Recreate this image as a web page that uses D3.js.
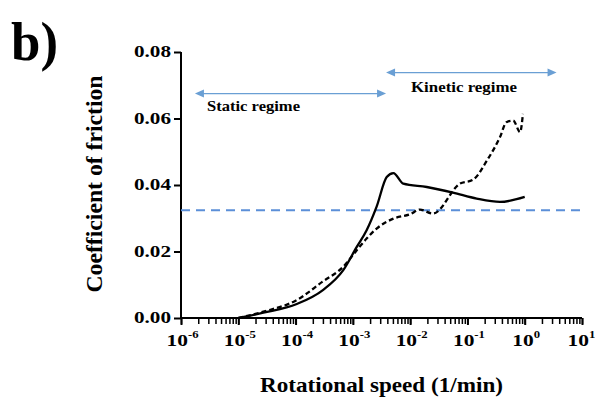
<!DOCTYPE html>
<html>
<head>
<meta charset="utf-8">
<script src="https://cdn.jsdelivr.net/npm/d3@7"></script>
<style>
  body { margin: 0; background: #fff; }
  svg text { font-family: "Liberation Serif", "Times New Roman", serif; font-weight: bold; }
</style>
</head>
<body>
<div id="chart"></div>
<script>
// rotational speed (1/min) and coefficient of friction
var solidSpeed = [1e-5, 2.75e-5, 1.05e-4, 3.0e-4, 6.8e-4, 1.17e-3, 1.74e-3, 2.6e-3, 3.9e-3, 5.1e-3, 7.6e-3, 0.0195, 0.056, 0.145, 0.37, 1.0];
var solidCof   = [0, 0.0016, 0.0042, 0.0084, 0.0144, 0.0214, 0.0264, 0.0335, 0.0424, 0.0436, 0.0404, 0.0394, 0.0377, 0.0359, 0.0349, 0.0364];

var dashSpeed = [1e-5, 2.75e-5, 1.05e-4, 3.0e-4, 6.8e-4, 1.17e-3, 1.74e-3, 2.6e-3, 5.1e-3, 0.01, 0.0148, 0.025, 0.074, 0.126, 0.22, 0.37, 0.48, 0.63, 0.83, 0.93];
var dashCof   = [0, 0.0019, 0.0054, 0.0110, 0.0154, 0.0204, 0.0239, 0.0269, 0.0299, 0.0312, 0.0326, 0.0314, 0.0404, 0.0416, 0.0474, 0.0544, 0.0589, 0.0594, 0.0559, 0.0614];

var thresholdCof = 0.0324;

var yTicks = [0, 0.02, 0.04, 0.06, 0.08];
var xDecades = [-6, -5, -4, -3, -2, -1, 0, 1];

// regime arrows: [from, to, level]
var staticArrow = [1.75e-6, 3.8e-3, 0.0675];
var kineticArrow = [3.8e-3, 3.6, 0.0738];

var w = 595, h = 401;

var svg = d3.select("#chart").append("svg")
    .attr("width", w)
    .attr("height", h);

var xScale = d3.scaleLog()
    .domain([1e-6, 10])
    .range([181, 582]);

var yScale = d3.scaleLinear()
    .domain([0, 0.08])
    .range([318, 52]);

// the original figure is stretched sideways, so text gets a fixed width
function fitText(sel, len) {
    sel.attr("textLength", len).attr("lengthAdjust", "spacingAndGlyphs");
}

// panel letter
svg.append("text")
    .attr("x", 11)
    .attr("y", 60)
    .style("font-size", "54px")
    .call(fitText, 47)
    .text("b)");

// y axis
var yAxis = d3.axisLeft(yScale)
    .tickValues(yTicks)
    .tickSize(7)
    .tickFormat(d3.format(".2f"));

var gy = svg.append("g")
    .attr("transform", "translate(181,0)")
    .call(yAxis);
gy.select(".domain").attr("stroke-width", 2).attr("d", "M0," + yScale(0.08) + "V" + yScale(0));
gy.selectAll(".tick line").attr("stroke-width", 2);
gy.selectAll(".tick text")
    .attr("x", -10)
    .attr("dy", "0.3em")
    .attr("fill", "#000")
    .style("font-size", "16px")
    .style("font-family", "Liberation Serif")
    .style("font-weight", "bold")
    .call(fitText, 37);

// x axis: minor ticks
var gxMinor = svg.append("g")
    .attr("transform", "translate(0,318)")
    .call(d3.axisBottom(xScale).ticks(70).tickSize(6).tickFormat(""));
gxMinor.select(".domain").remove();
gxMinor.selectAll(".tick line").attr("stroke-width", 1.5);

// x axis: decades
var gx = svg.append("g")
    .attr("transform", "translate(0,318)")
    .call(d3.axisBottom(xScale)
        .tickValues(xDecades.map(function(e) { return Math.pow(10, e); }))
        .tickSize(7)
        .tickFormat(""));
gx.select(".domain").attr("stroke-width", 2).attr("d", "M181,0H" + xScale(10));
gx.selectAll(".tick line").attr("stroke-width", 2);

gx.selectAll(".tick").each(function(d, i) {
    var t = d3.select(this).append("text")
        .attr("transform", "translate(" + (xDecades[i] > 0 ? -1 : 1) + ",28) scale(1.34,1)")
        .attr("text-anchor", "middle")
        .attr("fill", "#000")
        .style("font-size", "16px");
    t.append("tspan").text("10");
    t.append("tspan")
        .attr("dy", -8)
        .style("font-size", "9.5px")
        .text(xDecades[i] < 0 ? "-" + Math.abs(xDecades[i]) : xDecades[i]);
});

// axis titles
svg.append("text")
    .attr("transform", "translate(102,184) scale(1.25,1) rotate(-90)")
    .attr("text-anchor", "middle")
    .style("font-size", "18px")
    .call(fitText, 217)
    .text("Coefficient of friction");

svg.append("text")
    .attr("x", 260)
    .attr("y", 392)
    .style("font-size", "21px")
    .call(fitText, 243)
    .text("Rotational speed (1/min)");

// threshold line
svg.append("line")
    .attr("x1", xScale(1e-6))
    .attr("x2", xScale(10))
    .attr("y1", yScale(thresholdCof))
    .attr("y2", yScale(thresholdCof))
    .attr("stroke", "#5b8fd8")
    .attr("stroke-width", 2.2)
    .attr("stroke-dasharray", "9,6");

// curves
var line = d3.line()
    .x(function(d) { return xScale(d[0]); })
    .y(function(d) { return yScale(d[1]); })
    .curve(d3.curveMonotoneX);

svg.append("path")
    .datum(solidSpeed.map(function(s, i) { return [s, solidCof[i]]; }))
    .attr("d", line)
    .attr("fill", "none")
    .attr("stroke", "#000")
    .attr("stroke-width", 2.3);

svg.append("path")
    .datum(dashSpeed.map(function(s, i) { return [s, dashCof[i]]; }))
    .attr("d", line)
    .attr("fill", "none")
    .attr("stroke", "#000")
    .attr("stroke-width", 2.3)
    .attr("stroke-dasharray", "5,3");

// arrows
var arrowColor = "#6a9fd4";
function drawArrow(a) {
    var x1 = xScale(a[0]), x2 = xScale(a[1]), y = yScale(a[2]);
    svg.append("line")
        .attr("x1", x1 + 6).attr("x2", x2 - 6)
        .attr("y1", y).attr("y2", y)
        .attr("stroke", arrowColor)
        .attr("stroke-width", 1.2);
    svg.append("path")
        .attr("d", "M" + x1 + "," + y + "L" + (x1 + 9) + "," + (y - 4) + "L" + (x1 + 9) + "," + (y + 4) + "Z")
        .attr("fill", arrowColor);
    svg.append("path")
        .attr("d", "M" + x2 + "," + y + "L" + (x2 - 9) + "," + (y - 4) + "L" + (x2 - 9) + "," + (y + 4) + "Z")
        .attr("fill", arrowColor);
}
drawArrow(staticArrow);
drawArrow(kineticArrow);

svg.append("text")
    .attr("x", 207)
    .attr("y", 111)
    .style("font-size", "15px")
    .call(fitText, 93)
    .text("Static regime");

svg.append("text")
    .attr("x", 411)
    .attr("y", 92)
    .style("font-size", "15px")
    .call(fitText, 106)
    .text("Kinetic regime");
</script>
</body>
</html>
